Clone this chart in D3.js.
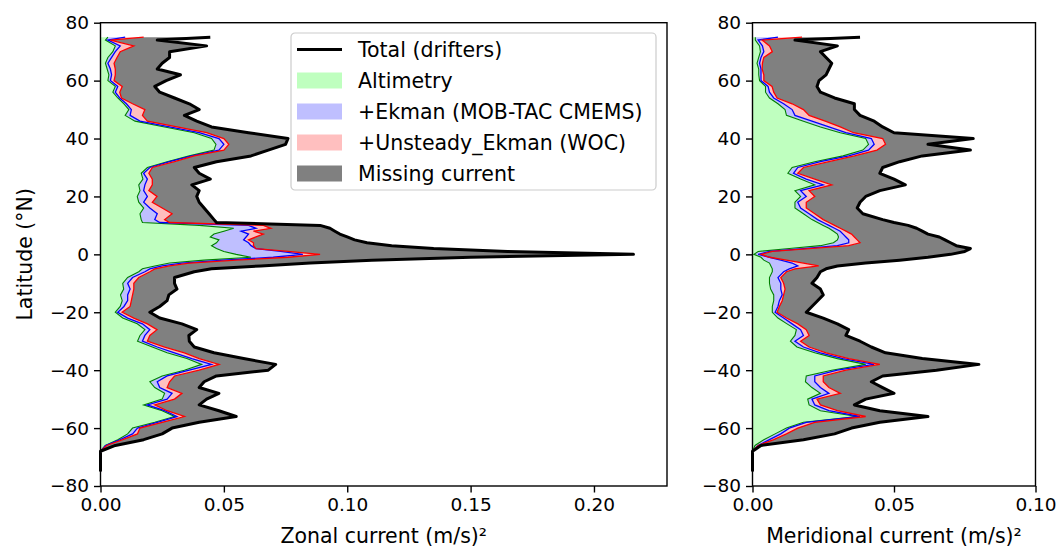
<!DOCTYPE html>
<html>
<head>
<meta charset="utf-8">
<script src="https://cdn.jsdelivr.net/npm/d3@7"></script>
<style>
  body { margin: 0; background: #fff; }
  svg { display: block; }
  text { font-family: "DejaVu Sans", sans-serif; }
</style>
</head>
<body>
<svg id="chart" width="1059" height="550"></svg>
<script>
// ---------------- DATA ----------------
const lat = [75, 74, 72, 70, 68, 66, 64, 62, 60, 58, 56, 54, 52, 50, 48, 46, 44, 42, 40, 38, 36, 34, 32, 30, 28, 26, 24, 22, 20, 18, 16, 14,
  12, 11, 10, 9, 8, 7, 6, 5, 4, 3, 2, 1, 0, -1, -2, -3, -4, -5, -6,
  -8, -10, -12, -14, -16, -18, -20, -22, -24, -26, -28, -30, -32, -34, -36, -38, -40, -42, -44, -46, -48, -50, -52, -54, -56, -58, -60, -62, -64, -66, -68, -70, -72, -74, -75];

const zonalAlt = [0.003, 0.002, 0.006, 0.005, 0.003, 0.002, 0.0027, 0.0034, 0.003, 0.006, 0.005, 0.007, 0.0095, 0.0115, 0.010, 0.014, 0.026, 0.038, 0.045, 0.0468, 0.046, 0.036, 0.027, 0.019, 0.0165, 0.0172, 0.0155, 0.016, 0.0149, 0.0155, 0.0175, 0.016,
  0.0165, 0.017, 0.040, 0.054, 0.050, 0.046, 0.0445, 0.048, 0.047, 0.045, 0.047, 0.050, 0.055, 0.061, 0.042, 0.028, 0.022, 0.017, 0.0155,
  0.011, 0.009, 0.0094, 0.0081, 0.0088, 0.008, 0.006, 0.009, 0.0149, 0.018, 0.016, 0.015, 0.021, 0.027, 0.035, 0.041, 0.034, 0.025, 0.020, 0.022, 0.026, 0.025, 0.0175, 0.025, 0.030, 0.022, 0.013, 0.011, 0.007, 0.002, 0, 0, 0, 0, 0];
const zonalEkman = [0.010, 0.003, 0.008, 0.006, 0.0045, 0.003, 0.004, 0.0045, 0.004, 0.007, 0.006, 0.0078, 0.0105, 0.0125, 0.012, 0.016, 0.028, 0.040, 0.048, 0.050, 0.048, 0.037, 0.028, 0.020, 0.0175, 0.019, 0.018, 0.0175, 0.019, 0.0175, 0.020, 0.023,
  0.022, 0.024, 0.060, 0.063, 0.057, 0.060, 0.059, 0.058, 0.060, 0.061, 0.063, 0.073, 0.082, 0.070, 0.050, 0.033, 0.025, 0.020, 0.018,
  0.013, 0.011, 0.012, 0.011, 0.011, 0.0095, 0.007, 0.011, 0.017, 0.020, 0.018, 0.017, 0.023, 0.030, 0.037, 0.045, 0.036, 0.027, 0.023, 0.024, 0.029, 0.027, 0.019, 0.026, 0.031, 0.023, 0.015, 0.013, 0.008, 0.002, 0, 0, 0, 0, 0];
const zonalUnsteady = [0.0175, 0.004, 0.0135, 0.008, 0.0067, 0.0055, 0.006, 0.006, 0.0055, 0.0088, 0.0078, 0.0085, 0.013, 0.018, 0.017, 0.019, 0.031, 0.043, 0.050, 0.052, 0.050, 0.038, 0.030, 0.021, 0.0196, 0.021, 0.021, 0.0196, 0.0229, 0.021, 0.025, 0.029,
  0.026, 0.028, 0.066, 0.069, 0.062, 0.066, 0.063, 0.060, 0.062, 0.062, 0.063, 0.076, 0.089, 0.076, 0.055, 0.036, 0.028, 0.022, 0.020,
  0.0155, 0.0135, 0.0135, 0.013, 0.0125, 0.012, 0.0088, 0.0135, 0.019, 0.0229, 0.020, 0.019, 0.026, 0.034, 0.040, 0.048, 0.040, 0.030, 0.028, 0.027, 0.033, 0.030, 0.022, 0.027, 0.034, 0.025, 0.016, 0.015, 0.009, 0.0025, 0, 0, 0, 0, 0];
const zonalTotal = [0.0445, 0.023, 0.043, 0.028, 0.028, 0.025, 0.023, 0.0324, 0.0266, 0.022, 0.024, 0.030, 0.036, 0.040, 0.034, 0.039, 0.045, 0.060, 0.076, 0.075, 0.068, 0.061, 0.047, 0.038, 0.040, 0.0445, 0.037, 0.040, 0.039, 0.040, 0.042, 0.044,
  0.046, 0.047, 0.089, 0.093, 0.095, 0.097, 0.100, 0.103, 0.108, 0.118, 0.135, 0.165, 0.216, 0.150, 0.110, 0.085, 0.065, 0.045, 0.038,
  0.030, 0.030, 0.031, 0.0277, 0.027, 0.024, 0.020, 0.024, 0.033, 0.039, 0.0358, 0.036, 0.038, 0.046, 0.058, 0.071, 0.068, 0.047, 0.042, 0.040, 0.048, 0.043, 0.040, 0.048, 0.055, 0.040, 0.029, 0.025, 0.0175, 0.006, 0, 0, 0, 0, 0];

const merAlt = [0.001, 0.001, 0.0025, 0.0028, 0.0022, 0.0016, 0.0022, 0.0022, 0.0025, 0.0046, 0.0046, 0.006, 0.009, 0.0115, 0.012, 0.018, 0.024, 0.031, 0.040, 0.041, 0.039, 0.032, 0.022, 0.014, 0.0125, 0.017, 0.022, 0.015, 0.017, 0.015, 0.015, 0.018,
  0.021, 0.023, 0.025, 0.027, 0.0286, 0.030, 0.0304, 0.030, 0.0286, 0.024, 0.013, 0.002, 0.0005, 0.003, 0.004, 0.006, 0.0065, 0.007, 0.007,
  0.006, 0.006, 0.0064, 0.0075, 0.0075, 0.007, 0.007, 0.009, 0.0122, 0.0155, 0.015, 0.0134, 0.0157, 0.022, 0.030, 0.040, 0.028, 0.019, 0.0187, 0.021, 0.024, 0.0195, 0.020, 0.024, 0.037, 0.018, 0.012, 0.008, 0.004, 0.0009, 0, 0, 0, 0, 0];
const merEkman = [0.009, 0.002, 0.0035, 0.004, 0.003, 0.0025, 0.003, 0.003, 0.003, 0.0055, 0.006, 0.0075, 0.011, 0.014, 0.015, 0.021, 0.027, 0.033, 0.042, 0.043, 0.041, 0.034, 0.024, 0.016, 0.0145, 0.019, 0.025, 0.017, 0.019, 0.016, 0.017, 0.020,
  0.023, 0.025, 0.027, 0.029, 0.031, 0.032, 0.033, 0.034, 0.034, 0.030, 0.018, 0.006, 0.002, 0.006, 0.010, 0.014, 0.016, 0.013, 0.011,
  0.009, 0.010, 0.010, 0.0105, 0.0095, 0.009, 0.008, 0.011, 0.014, 0.017, 0.018, 0.015, 0.018, 0.024, 0.032, 0.043, 0.030, 0.022, 0.022, 0.024, 0.027, 0.021, 0.022, 0.027, 0.038, 0.019, 0.013, 0.010, 0.006, 0.002, 0, 0, 0, 0, 0];
const merUnsteady = [0.0175, 0.0034, 0.006, 0.007, 0.004, 0.0035, 0.0034, 0.004, 0.004, 0.0069, 0.0075, 0.0087, 0.014, 0.018, 0.020, 0.0257, 0.031, 0.0357, 0.046, 0.047, 0.044, 0.036, 0.027, 0.018, 0.016, 0.022, 0.028, 0.020, 0.022, 0.019, 0.019, 0.022,
  0.025, 0.027, 0.029, 0.031, 0.033, 0.035, 0.036, 0.037, 0.038, 0.034, 0.020, 0.007, 0.003, 0.006, 0.012, 0.018, 0.0234, 0.015, 0.012,
  0.010, 0.011, 0.0115, 0.011, 0.0105, 0.0095, 0.0087, 0.012, 0.016, 0.019, 0.020, 0.017, 0.020, 0.026, 0.034, 0.045, 0.033, 0.025, 0.025, 0.027, 0.031, 0.0228, 0.024, 0.030, 0.040, 0.022, 0.016, 0.012, 0.0075, 0.002, 0, 0, 0, 0, 0];
const merTotal = [0.038, 0.015, 0.030, 0.024, 0.026, 0.028, 0.027, 0.026, 0.0235, 0.0228, 0.024, 0.029, 0.036, 0.036, 0.038, 0.043, 0.046, 0.050, 0.078, 0.062, 0.077, 0.060, 0.052, 0.046, 0.045, 0.050, 0.054, 0.045, 0.040, 0.038, 0.037, 0.039,
  0.046, 0.050, 0.055, 0.058, 0.060, 0.062, 0.066, 0.068, 0.070, 0.072, 0.077, 0.075, 0.070, 0.062, 0.052, 0.040, 0.030, 0.026, 0.024,
  0.0228, 0.021, 0.024, 0.025, 0.023, 0.021, 0.019, 0.025, 0.030, 0.034, 0.033, 0.038, 0.042, 0.047, 0.060, 0.080, 0.065, 0.046, 0.042, 0.046, 0.050, 0.040, 0.036, 0.045, 0.062, 0.045, 0.035, 0.029, 0.018, 0.003, 0, 0, 0, 0, 0];

const latTicks = [-80, -60, -40, -20, 0, 20, 40, 60, 80];
const zonalTicks = [0.00, 0.05, 0.10, 0.15, 0.20];
const merTicks = [0.00, 0.05, 0.10];
const legendLabels = ["Total (drifters)", "Altimetry", "+Ekman (MOB-TAC CMEMS)", "+Unsteady_Ekman (WOC)", "Missing current"];

// ---------------- STYLE ----------------
const C = {
  altFill: "#bfffbf", ekFill: "#bfbfff", unFill: "#ffbfbf", missFill: "#808080",
  altLine: "#008000", ekLine: "#0000ff", unLine: "#ff0000", totLine: "#000000"
};
const FS = 18.5;   // tick labels
const LFS = 20.5;  // axis labels & legend
const svg = d3.select("#chart");

const yScale = d3.scaleLinear().domain([-80, 80]).range([486, 22.7]);

function panel(x0px, x1px, xmax, alt, ek, un, tot, xticks, xlabel) {
  const x = d3.scaleLinear().domain([0, xmax]).range([x0px, x1px]);
  const g = svg.append("g");
  const rows = lat.map((l, i) => ({ lat: l, alt: alt[i], ek: ek[i], un: un[i], tot: tot[i] }));
  const area = (a, b) => d3.area().y(d => yScale(d.lat)).x0(d => x(a(d))).x1(d => x(b(d)));
  const line = (a) => d3.line().y(d => yScale(d.lat)).x(d => x(a(d)));
  const clipId = "clip" + Math.round(x0px);
  svg.append("clipPath").attr("id", clipId).append("rect")
    .attr("x", x0px).attr("y", yScale(80)).attr("width", x1px - x0px).attr("height", yScale(-80) - yScale(80));
  const pg = g.append("g").attr("clip-path", `url(#${clipId})`);
  pg.append("path").datum(rows).attr("d", area(d => 0, d => d.alt)).attr("fill", C.altFill);
  pg.append("path").datum(rows).attr("d", area(d => d.alt, d => d.ek)).attr("fill", C.ekFill);
  pg.append("path").datum(rows).attr("d", area(d => d.ek, d => d.un)).attr("fill", C.unFill);
  pg.append("path").datum(rows).attr("d", area(d => d.un, d => d.tot)).attr("fill", C.missFill);
  pg.append("path").datum(rows).attr("d", line(d => d.alt)).attr("fill", "none").attr("stroke", C.altLine).attr("stroke-width", 1.1);
  pg.append("path").datum(rows).attr("d", line(d => d.ek)).attr("fill", "none").attr("stroke", C.ekLine).attr("stroke-width", 1.3);
  pg.append("path").datum(rows).attr("d", line(d => d.un)).attr("fill", "none").attr("stroke", C.unLine).attr("stroke-width", 1.3);
  g.append("path").datum(rows).attr("d", line(d => d.tot)).attr("fill", "none").attr("stroke", C.totLine).attr("stroke-width", 3).attr("stroke-linejoin", "round");

  // axes
  const xAxis = d3.axisBottom(x).tickValues(xticks).tickFormat(d3.format(".2f")).tickSize(6.5).tickPadding(5);
  const yAxis = d3.axisLeft(yScale).tickValues(latTicks).tickFormat(d => d < 0 ? "\u2212" + Math.abs(d) : d).tickSize(6.5).tickPadding(5);
  const gx = svg.append("g").attr("transform", `translate(0,${yScale(-80)})`).call(xAxis);
  const gy = svg.append("g").attr("transform", `translate(${x0px},0)`).call(yAxis);
  [gx, gy].forEach(a => {
    a.select(".domain").remove();
    a.selectAll("line").attr("stroke", "#000").attr("stroke-width", 1.4);
    a.selectAll("text").attr("font-size", FS).attr("fill", "#000").attr("font-family", "DejaVu Sans");
  });
  svg.append("rect").attr("x", x0px).attr("y", yScale(80)).attr("width", x1px - x0px).attr("height", yScale(-80) - yScale(80))
    .attr("fill", "none").attr("stroke", "#000").attr("stroke-width", 1.4);
  svg.append("text").attr("x", (x0px + x1px) / 2).attr("y", 543).attr("text-anchor", "middle")
    .attr("font-size", LFS).text(xlabel);
  return x;
}

panel(100.5, 667, 0.2296, zonalAlt, zonalEkman, zonalUnsteady, zonalTotal, zonalTicks, "Zonal current (m/s)\u00B2");
panel(752.5, 1035.5, 0.10, merAlt, merEkman, merUnsteady, merTotal, merTicks, "Meridional current (m/s)\u00B2");

svg.append("text").attr("transform", `translate(26,${yScale(0)}) rotate(-90)`).attr("text-anchor", "middle")
  .attr("dominant-baseline", "middle").attr("font-size", LFS).text("Latitude (\u00B0N)");

// legend
const lg = svg.append("g").attr("transform", "translate(291,33)");
lg.append("rect").attr("x", 0).attr("y", 0).attr("width", 365).attr("height", 157).attr("rx", 4)
  .attr("fill", "rgba(255,255,255,0.8)").attr("stroke", "#cccccc").attr("stroke-width", 1.2);
const fills = [null, C.altFill, C.ekFill, C.unFill, C.missFill];
legendLabels.forEach((lab, i) => {
  const cy = 16.5 + i * 31;
  if (i === 0) {
    lg.append("line").attr("x1", 6).attr("x2", 51).attr("y1", cy).attr("y2", cy).attr("stroke", "#000").attr("stroke-width", 3);
  } else {
    lg.append("rect").attr("x", 6).attr("y", cy - 8).attr("width", 45).attr("height", 16).attr("fill", fills[i]);
  }
  lg.append("text").attr("x", 67).attr("y", cy).attr("dominant-baseline", "central").attr("font-size", LFS).text(lab);
});
</script>
</body>
</html>
